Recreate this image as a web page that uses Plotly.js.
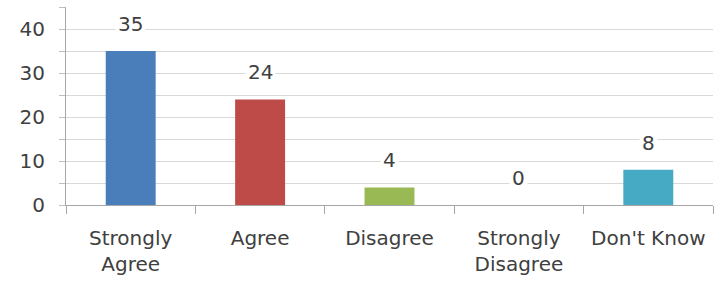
<!DOCTYPE html>
<html>
<head>
<meta charset="utf-8">
<script src="https://cdn.plot.ly/plotly-3.0.1.min.js"></script>
<style>html,body{margin:0;padding:0;background:#fff;}#chart{width:726px;height:289px;}</style>
</head>
<body>
<div id="chart"></div>
<script>
const categories = ["Strongly<br>Agree", "Agree", "Disagree", "Strongly<br>Disagree", "Don't Know"];
const values = [35, 24, 4, 0, 8];
const colors = ["#4A7EBB", "#BE4B48", "#98B954", "#7F7F7F", "#46AAC5"];
const yTicks = [0, 10, 20, 30, 40];

const font = {family: "'DejaVu Sans', sans-serif", size: 20, color: "#404040"};

const trace = {
  type: "bar",
  x: categories,
  y: values,
  marker: {color: colors, line: {width: 0}},
  hoverinfo: "none"
};

const annotations = values.map((v, i) => ({
  x: categories[i], y: v, xref: "x", yref: "y",
  text: String(v), showarrow: false, yshift: 27,
  bgcolor: "#ffffff", borderpad: 2,
  font: font
}));

const layout = {
  width: 726, height: 289,
  margin: {l: 66, r: 13, t: 7, b: 84},
  paper_bgcolor: "#ffffff", plot_bgcolor: "#ffffff",
  bargap: 0.614,
  showlegend: false,
  font: font,
  xaxis: {
    type: "category",
    showline: true, linecolor: "#a6a6a6", linewidth: 1,
    ticks: "outside", tickson: "boundaries", ticklen: 8, tickcolor: "#a6a6a6",
    showgrid: false, ticklabelstandoff: 15,
    tickfont: font, fixedrange: true
  },
  yaxis: {
    range: [0, 45],
    tickvals: yTicks,
    showline: true, linecolor: "#a6a6a6", linewidth: 1,
    ticks: "outside", ticklen: 6, tickcolor: "#bfbfbf",
    showgrid: true, gridcolor: "#d9d9d9", gridwidth: 1,
    zeroline: false,
    minor: {dtick: 5, tick0: 0, showgrid: true, gridcolor: "#d9d9d9", ticks: "outside", ticklen: 6, tickcolor: "#bfbfbf"},
    ticklabelstandoff: 10,
    tickfont: font, fixedrange: true
  },
  annotations: annotations
};

Plotly.newPlot("chart", [trace], layout, {displayModeBar: false, staticPlot: true});
</script>
</body>
</html>
